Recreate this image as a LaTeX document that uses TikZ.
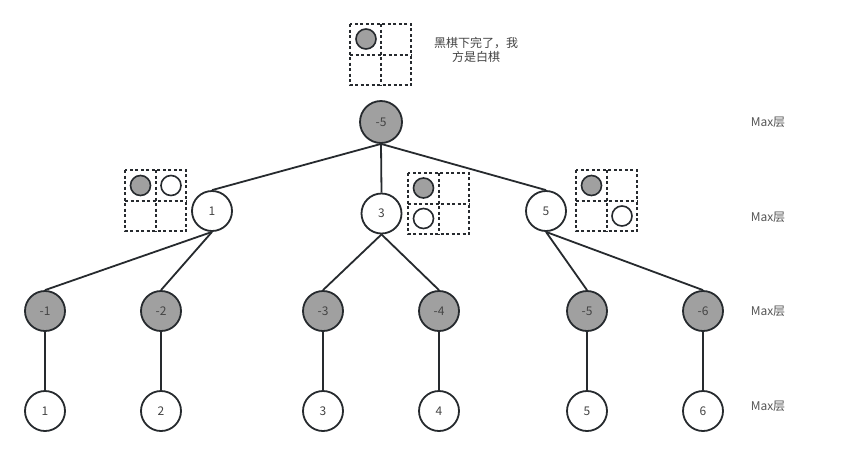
\documentclass[tikz,border=0pt]{standalone}
\usepackage{fontspec}
\setmainfont{Noto Sans CJK SC}
\begin{document}
\begin{tikzpicture}[x=1pt,y=-1pt,
  every node/.style={font=\fontsize{12}{14}\selectfont},
  graynode/.style={circle,draw=strokec,line width=1.8pt,fill=stonegray,minimum size=40pt,inner sep=0pt,text=numc},
  whitenode/.style={circle,draw=strokec,line width=1.8pt,fill=white,minimum size=40pt,inner sep=0pt,text=numc},
  edge/.style={draw=strokec,line width=1.8pt},
  boardline/.style={draw=strokec,line width=1.6pt,dash pattern=on 3pt off 2.5pt},
  stoneB/.style={circle,draw=strokec,line width=1.6pt,fill=stonegray,minimum size=20pt,inner sep=0pt},
  stoneW/.style={circle,draw=strokec,line width=1.6pt,fill=white,minimum size=20pt,inner sep=0pt},
  lbl/.style={text=lblc},
  board/.pic={
    \draw[boardline] (0,0) rectangle (61,61);
    \draw[boardline] (31,0) -- (31,61);
    \draw[boardline] (0,31) -- (61,31);
  }]
\definecolor{strokec}{HTML}{262A2E}
\definecolor{stonegray}{HTML}{A0A0A0}
\definecolor{numc}{HTML}{444444}
\definecolor{lblc}{HTML}{555555}
\useasboundingbox[fill=white] (0,0) rectangle (843,456);

% top board
\pic at (350,24) {board};
\node[stoneB] (s0) at (366,39) {};
\node[text=numc,align=center] (note) at (476,50) {黑棋下完了，我\\方是白棋};

% boards near level 1
\pic at (125,170) {board};
\node[stoneB] (s1a) at (140.5,185.5) {};
\node[stoneW] (s1b) at (171,185.5) {};

\pic at (408,173) {board};
\node[stoneB] (s3a) at (423.5,188) {};
\node[stoneW] (s3b) at (423.5,218.5) {};

\pic at (576,170) {board};
\node[stoneB] (s5a) at (591.5,185.5) {};
\node[stoneW] (s5b) at (622,216) {};

% tree nodes
\node[graynode,minimum size=42pt] (r) at (381,122) {-5};
\node[whitenode] (n1) at (212,211) {1};
\node[whitenode] (n3) at (381.5,213.5) {3};
\node[whitenode] (n5) at (546,211) {5};

\node[graynode] (a1) at (45,311) {-1};
\node[graynode] (a2) at (161,311) {-2};
\node[graynode] (a3) at (323,311) {-3};
\node[graynode] (a4) at (439,311) {-4};
\node[graynode] (a5) at (587,311) {-5};
\node[graynode] (a6) at (703,311) {-6};

\node[whitenode] (b1) at (45,411) {1};
\node[whitenode] (b2) at (161,411) {2};
\node[whitenode] (b3) at (323,411) {3};
\node[whitenode] (b4) at (439,411) {4};
\node[whitenode] (b5) at (587,411) {5};
\node[whitenode] (b6) at (703,411) {6};

% edges
\path[edge] (r.south) -- (n1.north);
\path[edge] (r.south) -- (n3.north);
\path[edge] (r.south) -- (n5.north);
\path[edge] (n1.south) -- (a1.north);
\path[edge] (n1.south) -- (a2.north);
\path[edge] (n3.south) -- (a3.north);
\path[edge] (n3.south) -- (a4.north);
\path[edge] (n5.south) -- (a5.north);
\path[edge] (n5.south) -- (a6.north);
\path[edge] (a1.south) -- (b1.north);
\path[edge] (a2.south) -- (b2.north);
\path[edge] (a3.south) -- (b3.north);
\path[edge] (a4.south) -- (b4.north);
\path[edge] (a5.south) -- (b5.north);
\path[edge] (a6.south) -- (b6.north);

% level labels
\node[lbl] (L0) at (768,122) {Max层};
\node[lbl] (L1) at (768,217) {Max层};
\node[lbl] (L2) at (768,311) {Max层};
\node[lbl] (L3) at (768,406) {Max层};
\end{tikzpicture}
\end{document}
